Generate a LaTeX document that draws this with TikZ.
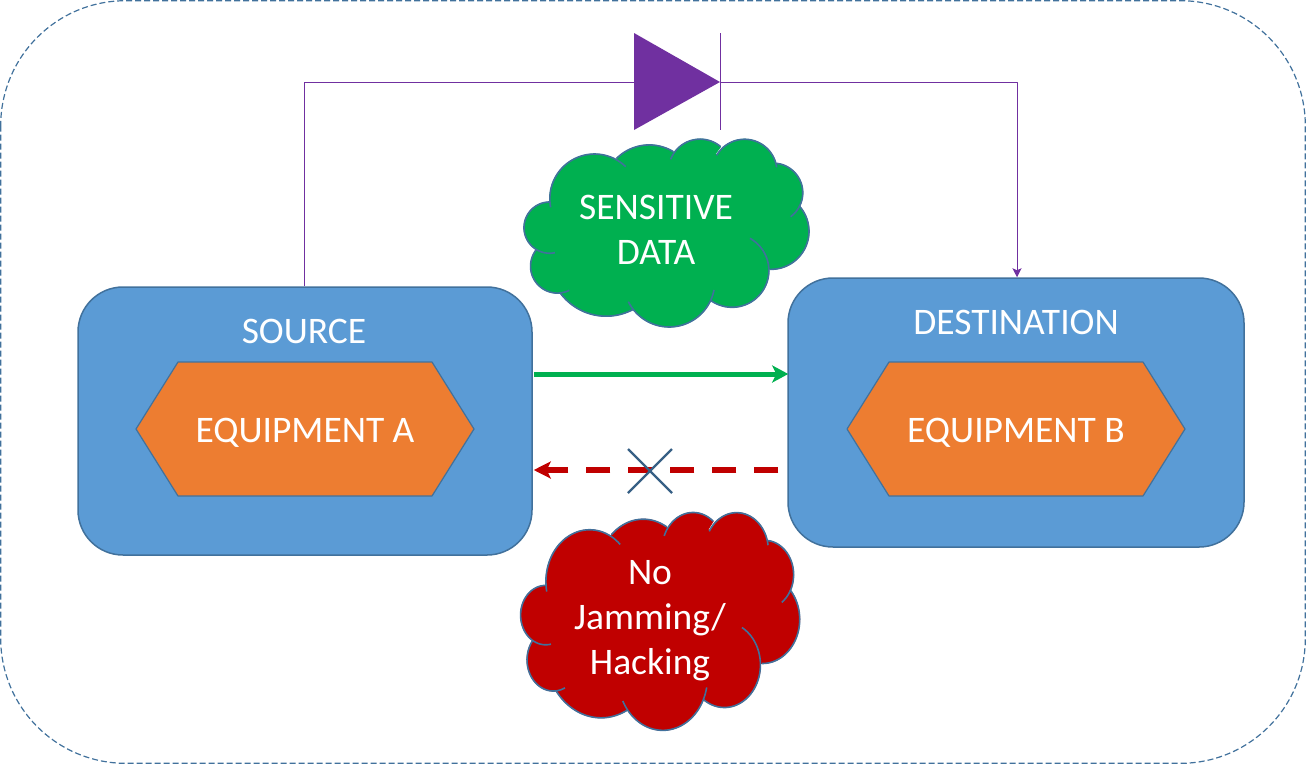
\documentclass[tikz,border=0pt]{standalone}
\usepackage{fontspec}
\setmainfont{Carlito}
\usetikzlibrary{arrows.meta}
\definecolor{boxblue}{HTML}{5B9BD5}
\definecolor{edgeblue}{HTML}{41719C}
\definecolor{hexorange}{HTML}{ED7D31}
\definecolor{diodepurple}{HTML}{7030A0}
\definecolor{okgreen}{HTML}{00B050}
\definecolor{badred}{HTML}{C00000}
\definecolor{cloudedge}{HTML}{41719C}
\tikzset{
  panel/.style={draw=edgeblue,line width=1.5pt,fill=boxblue,rounded corners=45pt,minimum width=454pt,inner sep=0pt},
  hexa/.style={draw=edgeblue,line width=1.2pt,fill=hexorange},
  lbl/.style={text=white,font=\fontsize{37.5}{45}\selectfont,align=center,inner sep=0pt},
  wire/.style={draw=diodepurple,line width=1pt},
  cross/.style={draw=edgeblue!85!black,line width=2.2pt},
}
% circle through three points (given in hundreds of reference units)
\newcommand{\lobecalc}[6]{%
  \pgfmathsetmacro\qd{2*(#1*(#4-#6)+#3*(#6-#2)+#5*(#2-#4))}%
  \pgfmathsetmacro\qa{#1*#1+#2*#2}%
  \pgfmathsetmacro\qb{#3*#3+#4*#4}%
  \pgfmathsetmacro\qc{#5*#5+#6*#6}%
  \pgfmathsetmacro\qux{(\qa*(#4-#6)+\qb*(#6-#2)+\qc*(#2-#4))/\qd}%
  \pgfmathsetmacro\quy{(\qa*(#5-#3)+\qb*(#1-#5)+\qc*(#3-#1))/\qd}%
  \pgfmathsetmacro\qr{veclen(#1-\qux,#2-\quy)}%
  \pgfmathsetmacro\qaa{atan2(#2-\quy,#1-\qux)}%
  \pgfmathsetmacro\qab{atan2(#4-\quy,#3-\qux)}%
  \pgfmathsetmacro\qac{atan2(#6-\quy,#5-\qux)}%
  \pgfmathsetmacro\qbb{\qab<\qaa?\qab+360:\qab}%
  \pgfmathsetmacro\qcc{\qac<\qaa?\qac+360:\qac}%
  \pgfmathsetmacro\qend{\qbb<\qcc?\qcc:\qcc-360}%
}
\newcommand{\lobeset}{%
  \onelobe{1.18}{2.16}{0.42}{2.90}{1.35}{3.68}%
  \onelobe{0.78}{3.60}{0.68}{4.40}{1.78}{4.81}%
  \onelobe{1.50}{4.88}{2.65}{5.57}{3.70}{5.38}%
  \onelobe{3.55}{5.15}{4.80}{5.91}{6.12}{4.80}%
  \onelobe{6.03}{5.12}{7.60}{4.80}{7.20}{3.25}%
  \onelobe{7.80}{4.18}{8.97}{3.00}{8.68}{2.28}%
  \onelobe{8.42}{2.60}{8.78}{1.80}{8.00}{1.00}%
  \onelobe{8.00}{1.12}{7.10}{0.28}{6.20}{0.76}%
  \onelobe{6.32}{0.50}{5.60}{0.28}{4.82}{0.88}%
  \onelobe{4.90}{0.65}{4.10}{0.45}{3.20}{0.85}%
  \onelobe{3.47}{1.10}{1.90}{0.88}{1.22}{2.32}%
}
\newcommand{\cloudshape}[1]{%
  \filldraw[fill=#1,draw=#1,line width=0.8pt] (700,90) -- (560,60) -- (410,80) -- (250,110) -- (130,220) -- (100,370)
     -- (150,450) -- (370,520) -- (600,500) -- (760,420) -- (860,260) -- (800,130) -- cycle;
  \def\onelobe##1##2##3##4##5##6{\lobecalc{##1}{##2}{##3}{##4}{##5}{##6}%
    \filldraw[fill=#1,draw=#1,line width=0.8pt] (450,300) -- plot[domain=\qaa:\qend,samples=40,smooth] ({100*(\qux+\qr*cos(\x))},{100*(\quy+\qr*sin(\x))}) -- cycle;}%
  \lobeset
  \def\onelobe##1##2##3##4##5##6{\lobecalc{##1}{##2}{##3}{##4}{##5}{##6}%
    \draw[cloudedge,line width=1.6pt] plot[domain=\qaa:\qend,samples=40,smooth] ({100*(\qux+\qr*cos(\x))},{100*(\quy+\qr*sin(\x))});}%
  \lobeset
}
\begin{document}
\begin{tikzpicture}[x=1pt,y=-1pt,line join=round]
\useasboundingbox (0,0) rectangle (1306,764);
% frame
\draw[edgeblue,line width=1.2pt,dash pattern=on 6pt off 3pt,rounded corners=125pt] (0.7,0.7) rectangle (1305.3,763.3);
% panels
\node[panel,minimum height=268pt] (src) at (305,421) {};
\node[panel,minimum width=456pt,minimum height=269pt] (dst) at (1016,412.5) {};
% hexagons
\draw[hexa] (136,429) -- (178,362) -- (432,362) -- (474,429) -- (432,496) -- (178,496) -- cycle;
\draw[hexa] (847,429) -- (889,362) -- (1143,362) -- (1185,429) -- (1143,496) -- (889,496) -- cycle;
% labels
\node[lbl] (srcl) at (304,331) {SOURCE};
\node[lbl] (dstl) at (1016,322) {DESTINATION};
\node[lbl] (eqa) at (305,433) {EQUIPMENT A};
\node[lbl] (eqb) at (1016,433) {EQUIPMENT B};
% diode
\coordinate (dl) at (634,82);
\coordinate (dr) at (720,82);
\coordinate (bt) at (720,33);
\coordinate (bb) at (720,130);
\coordinate (dt) at (634,33);
\coordinate (db) at (634,130);
\fill[diodepurple] (dt) -- (dr) -- (db) -- cycle;
\draw[wire] (bt) -- (bb);
\draw[wire] ([xshift=-0.6pt]src.north) |- (dl);
\draw[wire,-{Stealth[length=9pt,width=9pt,inset=2pt]}] (dr) -| ([xshift=1pt]dst.north);
% arrows
\draw[okgreen,line width=5pt,-{Stealth[length=16pt,width=17pt,inset=4pt]}] ([xshift=1pt,yshift=47pt]src.east) -- ([xshift=1pt,yshift=38.5pt]dst.west);
\draw[badred,line width=6pt,dash pattern=on 24pt off 18pt,-{Stealth[length=17pt,width=17pt,inset=4pt]}] ([xshift=-9pt,yshift=-57.5pt]dst.west) -- ([xshift=1pt,yshift=-49pt]src.east);
\coordinate (xa) at (628,449); \coordinate (xb) at (672,493);
\coordinate (xc) at (672,449); \coordinate (xd) at (628,493);
\draw[cross] (xa) -- (xb);
\draw[cross] (xc) -- (xd);
% clouds
\begin{scope}[shift={(510,130)},xscale=0.3333,yscale=0.3333]
\cloudshape{okgreen}
\end{scope}
\begin{scope}[shift={(506.9,501.9)},xscale=0.3264,yscale=0.3865]
\cloudshape{badred}
\end{scope}
\node[lbl] (sens) at (656,229.5) {SENSITIVE\\DATA};
\node[lbl] (nojam) at (650,621) {No\\Jamming/\\Hacking};
\end{tikzpicture}
\end{document}
